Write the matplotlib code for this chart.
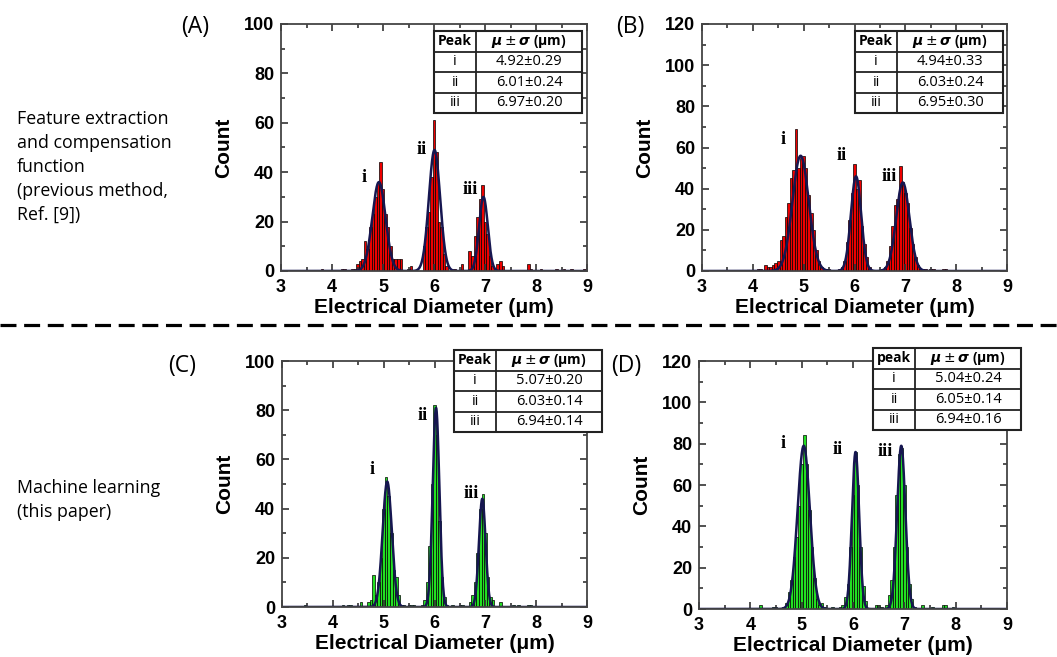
import numpy as np
import matplotlib
matplotlib.use('Agg')
import matplotlib.pyplot as plt
from matplotlib.lines import Line2D
from matplotlib.patches import Rectangle

plt.rcParams['mathtext.fontset'] = 'dejavusans'

BIN = 0.05

# Panel A: previous method, sample 1 (contiguous bins + scattered outliers)
a_start = 4.40
a_counts = [1, 1, 3, 4, 5, 12, 9, 18, 23, 30,
            36, 44, 33, 23, 18, 10, 5, 5, 5, 5,
            0, 0, 1, 2, 0, 0, 0, 0, 10, 18,
            24, 38, 61, 48, 20, 18, 7, 2, 0, 0,
            1, 0, 0, 3, 0, 0, 8, 6, 14, 22,
            29, 35, 20, 15, 6, 2, 0, 3, 4, 2,
            0]
a_out_x = [3.80, 4.20, 4.25, 7.85, 7.90, 8.10, 8.40, 8.55, 8.70, 8.95]
a_out_y = [1, 1, 1, 3, 1, 1, 1, 1, 1, 1]

# Panel B: previous method, sample 2
b_start = 4.10
b_counts = [1, 1, 0, 3, 2, 2, 3, 4, 5, 15,
            17, 26, 33, 45, 49, 69, 50, 55, 56, 50,
            37, 28, 20, 10, 5, 2, 1, 1, 1, 0,
            0, 0, 1, 2, 5, 14, 25, 38, 52, 40,
            44, 22, 13, 7, 2, 0, 0, 0, 0, 1,
            2, 5, 12, 22, 32, 35, 51, 43, 38, 33,
            21, 13, 7, 3, 1, 1, 1, 0, 1, 1]
b_out_x = [7.75, 7.80]
b_out_y = [1, 1]

# Panel C: machine learning, sample 1
c_start = 4.70
c_counts = [2, 3, 13, 5, 10, 20, 40, 53, 45, 30,
            15, 12, 5, 1, 1, 0, 1, 1, 1, 0,
            0, 1, 3, 10, 25, 50, 82, 70, 35, 12,
            4, 1, 0, 1, 0, 0, 1, 1, 0, 0,
            2, 5, 10, 22, 40, 46, 30, 12, 4, 3,
            0]
c_out_x = [3.45, 4.20, 4.30, 4.35, 4.55, 7.30, 7.55, 7.65, 7.85, 7.90]
c_out_y = [1, 1, 1, 1, 2, 2, 1, 1, 1, 1]

# Panel D: machine learning, sample 2
d_start = 4.45
d_counts = [1, 1, 0, 0, 1, 3, 8, 14, 25, 35,
            50, 70, 84, 70, 48, 30, 15, 5, 2, 3,
            1, 0, 0, 1, 0, 0, 1, 2, 6, 12,
            30, 55, 76, 60, 30, 11, 4, 0, 0, 0,
            2, 2, 1, 0, 2, 7, 14, 30, 55, 75,
            78, 60, 30, 12, 5, 1, 0, 0, 2]
d_out_x = [4.20, 7.55, 7.75, 7.80, 7.95]
d_out_y = [2, 1, 2, 2, 1]

# Gaussian fits (centre, amplitude, width as drawn)
a_mu, a_amp, a_sd = [4.92, 6.01, 6.97], [36, 49, 30], [0.13, 0.11, 0.085]
b_mu, b_amp, b_sd = [4.94, 6.03, 6.95], [56, 46, 43], [0.16, 0.10, 0.13]
c_mu, c_amp, c_sd = [5.07, 6.03, 6.94], [51, 81, 44], [0.09, 0.065, 0.065]
d_mu, d_amp, d_sd = [5.04, 6.05, 6.94], [79, 76, 79], [0.12, 0.07, 0.08]

peak_names = ['i', 'ii', 'iii']
a_table = ['4.92\u00b10.29', '6.01\u00b10.24', '6.97\u00b10.20']
b_table = ['4.94\u00b10.33', '6.03\u00b10.24', '6.95\u00b10.30']
c_table = ['5.07\u00b10.20', '6.03\u00b10.14', '6.94\u00b10.14']
d_table = ['5.04\u00b10.24', '6.05\u00b10.14', '6.94\u00b10.16']

# peak label positions (x, count)
a_lab = [(4.63, 38), (5.76, 49), (6.71, 33)]
b_lab = [(4.60, 64), (5.74, 56), (6.68, 46)]
c_lab = [(4.77, 56), (5.76, 78), (6.72, 46)]
d_lab = [(4.63, 80), (5.70, 77), (6.63, 76)]

W, H = 1057, 657
fig = plt.figure(figsize=(W / 100, H / 100), dpi=100)


def px_box(x0, y0, x1, y1):
    return [x0 / W, 1 - y1 / H, (x1 - x0) / W, (y1 - y0) / H]


def panel(box, start, counts, out_x, out_y, mu, amp, sd, ymax, color, labels):
    ax = fig.add_axes(px_box(*box))
    xs = start + BIN * np.arange(len(counts))
    ax.bar(xs, counts, width=BIN, color=color, edgecolor='black', linewidth=0.5)
    ax.bar(out_x, out_y, width=BIN, color=color, edgecolor='black', linewidth=0.5)
    xf = np.linspace(3, 9, 1200)
    yf = np.zeros_like(xf)
    for m, a, s in zip(mu, amp, sd):
        yf += a * np.exp(-0.5 * ((xf - m) / s) ** 2)
    ax.plot(xf, yf, color='#161650', lw=1.8)
    for (lx, ly), name in zip(labels, peak_names):
        ax.text(lx, ly, name, fontsize=13, fontweight='bold', family='Liberation Serif',
                ha='center', va='center')
    ax.set_xlim(3, 9)
    ax.set_ylim(0, ymax)
    ax.set_xticks(range(3, 10))
    ax.set_xticks(np.arange(3, 9.01, 0.5), minor=True)
    ax.set_yticks(range(0, ymax + 1, 20))
    ax.set_yticks(range(0, ymax + 1, 10), minor=True)
    ax.tick_params(which='both', direction='in', top=True, right=True, width=1.2,
                   colors='#333333', labelcolor='black')
    ax.tick_params(which='major', length=5)
    ax.tick_params(which='minor', length=3)
    ax.tick_params(axis='x', pad=6)
    ax.tick_params(axis='y', pad=5)
    for t in ax.get_xticklabels() + ax.get_yticklabels():
        t.set_fontfamily('Liberation Sans')
        t.set_fontweight('bold')
        t.set_fontsize(13)
    for sp in ax.spines.values():
        sp.set_color('#444444')
        sp.set_linewidth(1.3)
    ax.set_xlabel('Electrical Diameter (\u03bcm)', fontsize=15, fontweight='bold',
                  family='Liberation Sans', labelpad=1)
    ax.set_ylabel('Count', fontsize=15, fontweight='bold', family='Liberation Sans',
                  labelpad=8)
    return ax


def table(box, head, rows):
    t = fig.add_axes(px_box(*box))
    t.set_xlim(0, 1)
    t.set_ylim(0, 4)
    t.axis('off')
    t.add_patch(Rectangle((0, 0), 1, 4, facecolor='white', edgecolor='#222222',
                          lw=1.5, clip_on=False))
    split = 0.285
    t.plot([split, split], [0, 4], color='#222222', lw=1.3)
    for r in (1, 2, 3):
        t.plot([0, 1], [r, r], color='#222222', lw=1.3)
    t.text(split / 2, 3.5, head, ha='center', va='center', fontsize=10,
           fontweight='bold', family='Open Sans')
    t.text((1 + split) / 2, 3.5, '$\\mathbfit{\\mu}\\pm\\mathbfit{\\sigma}$ (\u03bcm)',
           ha='center', va='center', fontsize=10, fontweight='bold', family='Open Sans')
    for i, (name, val) in enumerate(zip(peak_names, rows)):
        y = 2.5 - i
        t.text(split / 2, y, name, ha='center', va='center', fontsize=10.5,
               family='Open Sans')
        t.text((1 + split) / 2, y, val, ha='center', va='center', fontsize=10.5,
               family='Open Sans')


red = '#ee0000'
green = '#22e022'
panel((281, 24, 587, 271), a_start, a_counts, a_out_x, a_out_y, a_mu, a_amp, a_sd, 100, red, a_lab)
panel((702, 24, 1007, 271), b_start, b_counts, b_out_x, b_out_y, b_mu, b_amp, b_sd, 120, red, b_lab)
panel((282, 361, 587, 607), c_start, c_counts, c_out_x, c_out_y, c_mu, c_amp, c_sd, 100, green, c_lab)
panel((699, 361, 1007, 609), d_start, d_counts, d_out_x, d_out_y, d_mu, d_amp, d_sd, 120, green, d_lab)

table((434, 31, 582, 113), 'Peak', a_table)
table((855, 31, 1003, 113), 'Peak', b_table)
table((454, 350, 602, 432), 'Peak', c_table)
table((873, 348, 1021, 430), 'peak', d_table)

# panel letters
for lab, x, y in [('(A)', 195, 27), ('(B)', 630, 27), ('(C)', 182, 366), ('(D)', 626, 366)]:
    fig.text(x / W, 1 - y / H, lab, fontsize=16.5, family='Open Sans', ha='center', va='center')

fig.text(17 / W, 1 - 167 / H,
         'Feature extraction\nand compensation\nfunction\n(previous method,\nRef. [9])',
         fontsize=12.8, family='Open Sans', ha='left', va='center', linespacing=1.42)
fig.text(17 / W, 1 - 500 / H, 'Machine learning\n(this paper)',
         fontsize=12.8, family='Open Sans', ha='left', va='center', linespacing=1.42)

# separator between the two methods
fig.add_artist(Line2D([0, 1], [1 - 325 / H, 1 - 325 / H], color='black', lw=2.3,
                      dashes=(5, 2.4), transform=fig.transFigure))

fig.savefig('out.png', dpi=100)
